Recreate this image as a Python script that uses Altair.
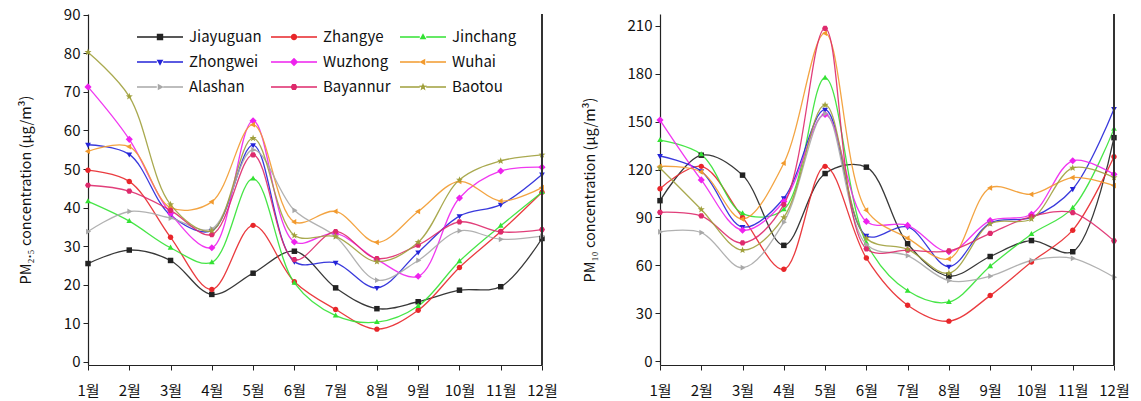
import math
import altair as alt
import pandas as pd

months = list(range(1, 13))
cities = ["Jiayuguan", "Zhangye", "Jinchang", "Zhongwei", "Wuzhong", "Wuhai", "Alashan", "Bayannur", "Baotou"]
colors = ["#222222", "#e8262a", "#33e233", "#2424d8", "#ee22ee", "#f29a2e", "#a8a8a8", "#de2a6c", "#a0a03c"]

pm25_jiayuguan = [25.5, 29.0, 26.3, 17.5, 23.0, 28.7, 19.2, 13.8, 15.6, 18.6, 19.5, 32.0]
pm25_zhangye = [49.7, 46.8, 32.3, 18.8, 35.4, 20.8, 13.6, 8.5, 13.4, 24.5, 33.8, 44.0]
pm25_jinchang = [41.6, 36.5, 29.6, 25.8, 47.5, 20.5, 12.0, 10.3, 14.5, 26.1, 35.3, 44.0]
pm25_zhongwei = [56.3, 53.8, 38.0, 34.0, 56.2, 26.0, 25.7, 19.2, 28.4, 37.8, 40.8, 48.6]
pm25_wuzhong = [71.3, 57.7, 38.5, 29.6, 62.5, 31.1, 33.3, 26.5, 22.2, 42.5, 49.5, 50.5]
pm25_wuhai = [54.6, 55.8, 40.0, 41.5, 61.5, 36.3, 39.0, 31.0, 39.0, 46.8, 41.7, 45.2]
pm25_alashan = [33.8, 39.0, 37.3, 34.5, 55.0, 39.3, 32.5, 21.2, 26.3, 34.0, 31.8, 32.6]
pm25_bayannur = [45.8, 44.3, 39.3, 33.0, 53.7, 26.5, 33.8, 26.8, 30.3, 36.3, 33.7, 34.3]
pm25_baotou = [80.3, 68.8, 40.8, 34.0, 58.0, 32.8, 32.5, 26.0, 31.0, 47.2, 52.1, 53.7]

pm10_jiayuguan = [100.5, 129.0, 116.5, 72.5, 117.5, 121.5, 73.5, 53.2, 65.5, 75.5, 68.5, 140.0]
pm10_zhangye = [108.0, 122.0, 90.0, 57.5, 122.0, 64.5, 35.0, 25.0, 41.0, 62.0, 82.0, 128.0]
pm10_jinchang = [138.5, 129.5, 92.5, 95.0, 177.5, 74.0, 44.0, 37.0, 59.4, 79.5, 96.0, 145.5]
pm10_zhongwei = [128.5, 119.0, 84.0, 102.0, 157.5, 78.5, 84.0, 59.2, 86.5, 90.0, 107.8, 158.0]
pm10_wuzhong = [151.0, 113.5, 82.0, 100.0, 154.5, 87.5, 85.0, 68.5, 88.0, 92.0, 125.5, 117.0]
pm10_wuhai = [122.0, 118.5, 89.0, 124.0, 205.5, 94.5, 77.0, 64.0, 108.5, 104.5, 115.0, 110.0]
pm10_alashan = [81.0, 80.5, 58.5, 87.0, 155.0, 73.0, 66.0, 50.4, 53.2, 63.0, 64.4, 52.5]
pm10_bayannur = [93.2, 91.0, 74.0, 98.0, 208.5, 70.3, 69.5, 69.0, 80.0, 90.5, 93.0, 75.3]
pm10_baotou = [121.0, 95.0, 69.5, 90.0, 160.5, 77.0, 70.0, 55.0, 86.0, 89.0, 121.0, 115.0]

pm25 = [pm25_jiayuguan, pm25_zhangye, pm25_jinchang, pm25_zhongwei, pm25_wuzhong,
        pm25_wuhai, pm25_alashan, pm25_bayannur, pm25_baotou]
pm10 = [pm10_jiayuguan, pm10_zhangye, pm10_jinchang, pm10_zhongwei, pm10_wuzhong,
        pm10_wuhai, pm10_alashan, pm10_bayannur, pm10_baotou]

FONT = "Noto Sans CJK KR"


def frame(series):
    rows = []
    for c, vals in zip(cities, series):
        for m, v in zip(months, vals):
            rows.append({"city": c, "month": m, "value": v})
    return pd.DataFrame(rows)


# ---------- marker geometry (styles) ----------
def poly(pts):
    return "M" + "L".join(f"{x:.3f},{y:.3f}" for x, y in pts) + "Z"


def marker_path(kind, r):
    if kind == "square":
        return poly([(-r, -r), (r, -r), (r, r), (-r, r)])
    if kind == "circle":
        return f"M{r:.3f},0A{r:.3f},{r:.3f} 0 1,1 {-r:.3f},0A{r:.3f},{r:.3f} 0 1,1 {r:.3f},0Z"
    if kind == "triangle-up":
        return poly([(0, -r * 1.15), (r * 1.05, r * 0.7), (-r * 1.05, r * 0.7)])
    if kind == "triangle-down":
        return poly([(0, r * 1.15), (r * 1.05, -r * 0.7), (-r * 1.05, -r * 0.7)])
    if kind == "triangle-left":
        return poly([(-r * 1.15, 0), (r * 0.7, -r * 1.05), (r * 0.7, r * 1.05)])
    if kind == "triangle-right":
        return poly([(r * 1.15, 0), (-r * 0.7, -r * 1.05), (-r * 0.7, r * 1.05)])
    if kind == "diamond":
        return poly([(0, -r * 1.3), (r * 1.3, 0), (0, r * 1.3), (-r * 1.3, 0)])
    if kind == "hexagon":
        return poly([(r * 1.1 * math.cos(math.radians(a)), r * 1.1 * math.sin(math.radians(a)))
                     for a in range(0, 360, 60)])
    if kind == "star":
        pts = []
        for k in range(10):
            rad = r * 1.35 if k % 2 == 0 else r * 0.55
            a = math.radians(-90 + k * 36)
            pts.append((rad * math.cos(a), rad * math.sin(a)))
        return poly(pts)
    return ""


marker_kinds = ["square", "circle", "triangle-up", "triangle-down", "diamond",
                "triangle-left", "triangle-right", "hexagon", "star"]
chart_shapes = [marker_path(k, 1.0) for k in marker_kinds]

L, T, R = 2.3, 0.075, 0.32
legend_shapes = []
for k in marker_kinds:
    seg = (poly([(-L, -T), (-R, -T), (-R, T), (-L, T)]) +
           poly([(R, -T), (L, -T), (L, T), (R, T)]))
    legend_shapes.append(seg + marker_path(k, R))

color_scale = alt.Scale(domain=cities, range=colors)


def panel(series, ydomain, yticks, ytitle, with_legend):
    df = frame(series)
    base = alt.Chart(df)
    x_axis = alt.Axis(values=months, labelExpr="datum.value + '월'", title=None,
                      grid=False, tickSize=5, labelPadding=13, labelFlush=False)
    y_axis = alt.Axis(values=yticks, title=ytitle, grid=False, tickSize=5,
                      labelPadding=3, titlePadding=30)
    x_scale = alt.Scale(domain=[1, 12], nice=False, zero=False)
    y_scale = alt.Scale(domain=ydomain, nice=False, zero=False)
    x_enc = alt.X("month:Q", scale=x_scale, axis=x_axis)
    y_enc = alt.Y("value:Q", scale=y_scale, axis=y_axis)

    lines = base.mark_line(interpolate="catmull-rom", strokeWidth=1.3, opacity=0.9).encode(
        x=x_enc, y=y_enc,
        color=alt.Color("city:N", scale=color_scale, legend=None),
        detail="city:N",
    )
    pts = base.mark_point(filled=True, size=30, opacity=1).encode(
        x=x_enc, y=y_enc,
        color=alt.Color("city:N", scale=color_scale, legend=None),
        shape=alt.Shape("city:N", scale=alt.Scale(domain=cities, range=chart_shapes), legend=None),
    )
    border = base.mark_rule(color="#333333", strokeWidth=1.0).encode(
        x=alt.datum(12, scale=x_scale, axis=x_axis),
        y=alt.datum(ydomain[0], scale=y_scale, axis=y_axis),
        y2=alt.datum(ydomain[1]),
    )
    layers = [lines, pts, border]
    if with_legend:
        leg = alt.Legend(title=None, orient="none", legendX=61, legendY=12, columns=3,
                         direction="horizontal",
                         symbolSize=400, labelOffset=18, rowPadding=6, columnPadding=6,
                         labelFontSize=15, labelFont=FONT, labelColor="#111111", padding=0,
                         symbolOpacity=1)
        legend_layer = base.transform_filter("false").mark_point(filled=True, opacity=1).encode(
            color=alt.Color("city:N", scale=color_scale, legend=leg),
            shape=alt.Shape("city:N", scale=alt.Scale(domain=cities, range=legend_shapes), legend=leg),
        )
        layers.append(legend_layer)
    ch = alt.layer(*layers).resolve_scale(shape="independent").resolve_legend(
        color="independent", shape="independent")
    return ch.properties(width=454, height=351)


left = panel(pm25, [-0.8, 90.2], list(range(0, 91, 10)), "PM₂.₅ concentration (μg/m³)", True)
right = panel(pm10, [-2.5, 217.5], list(range(0, 211, 30)), "PM₁₀ concentration (μg/m³)", False)

chart = alt.hconcat(left, right, spacing=118, bounds="flush").properties(
    padding={"left": 18, "top": 7, "right": 0, "bottom": 0}, background="white"
).configure_view(stroke=None).configure_axis(
    labelFont=FONT, titleFont=FONT, labelFontSize=15, titleFontSize=14.5,
    labelColor="#111111", titleColor="#111111", titleFontWeight="normal",
    domainColor="#222222", tickColor="#222222", domainWidth=1.2,
)

chart.save("out.html", embed_options={"renderer": "svg", "actions": False})
